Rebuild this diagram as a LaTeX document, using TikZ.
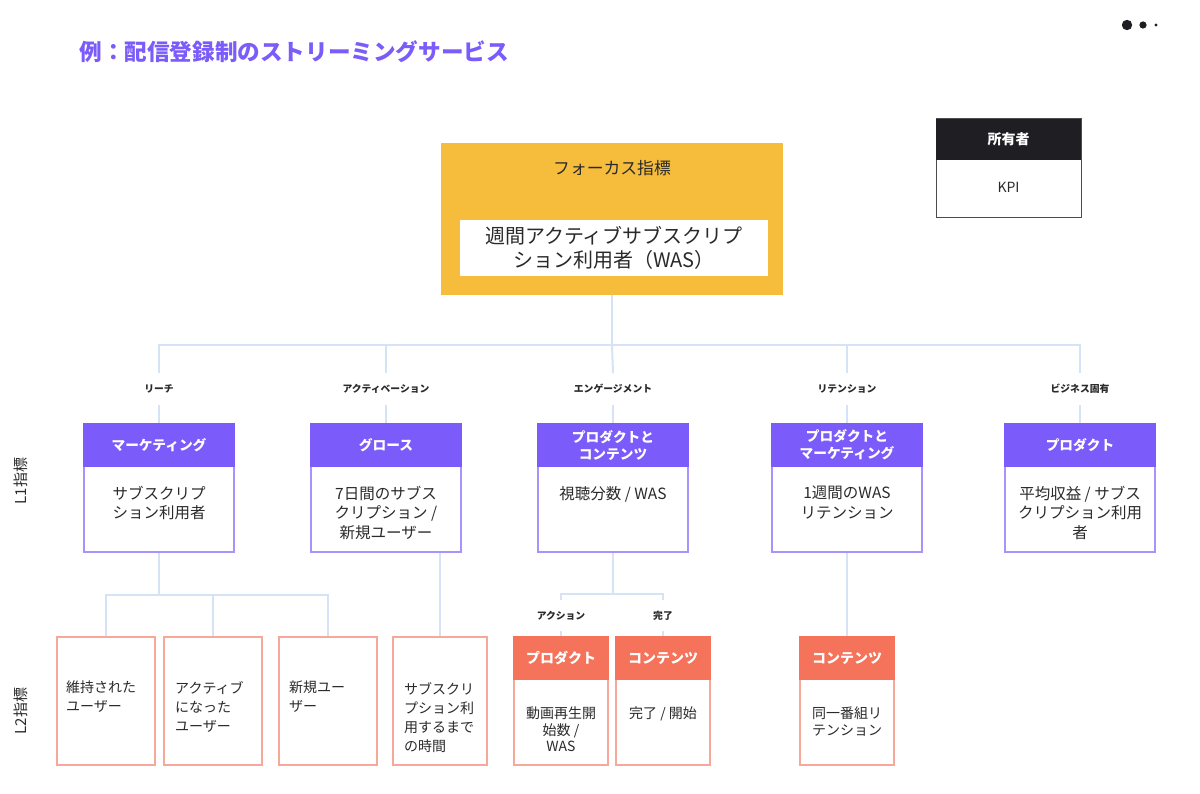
\documentclass[tikz,border=0pt]{standalone}
\usepackage{fontspec}
\setmainfont{Noto Sans CJK JP}
\usepackage{tikz}
\usetikzlibrary{positioning}

\definecolor{titlepurple}{HTML}{7B5CFA}
\definecolor{loneedge}{HTML}{A893FC}
\definecolor{ltwocoral}{HTML}{F4735A}
\definecolor{ltwoedge}{HTML}{F8A898}
\definecolor{focusorange}{HTML}{F6BC3C}
\definecolor{linkblue}{HTML}{D6E2F6}
\definecolor{ownerdark}{HTML}{1F1F23}
\definecolor{inkgray}{HTML}{2A2A2A}

\newcommand{\fs}[2]{\fontsize{#1}{#2}\selectfont}

\begin{document}
\begin{tikzpicture}[x=1pt, y=-1pt,
    every node/.style={text=inkgray},
    link/.style={linkblue, line width=2pt},
    loneframe/.style={draw=loneedge, line width=1.5pt, fill=white, minimum width=150pt, minimum height=128pt, inner sep=0pt},
    lonehead/.style={draw=titlepurple, line width=1.5pt, fill=titlepurple, text=white, minimum width=150pt, minimum height=42pt, align=center, font=\fs{13.7}{17}\bfseries, inner sep=0pt, anchor=north},
    lonetext/.style={align=center, font=\fs{15.5}{19.5}, inner sep=0pt, anchor=north},
    ltwoframe/.style={draw=ltwoedge, line width=1.5pt, fill=white, minimum width=94pt, minimum height=128pt, inner sep=0pt},
    ltwohead/.style={draw=ltwocoral, line width=1.5pt, fill=ltwocoral, text=white, minimum width=94pt, minimum height=42pt, font=\fs{14}{17}\bfseries, inner sep=0pt, anchor=north},
    ltwotext/.style={align=center, font=\fs{14}{16.5}, inner sep=0pt, anchor=north},
    ltwoleft/.style={align=left, font=\fs{14}{19}, inner sep=0pt, anchor=north west},
    stage/.style={font=\fs{9.8}{12}\bfseries, minimum height=31pt, inner sep=0pt},
    level/.style={rotate=90, font=\fs{15}{18}}]
    \useasboundingbox (0,0) rectangle (1200,794);

    \node[anchor=west, text=titlepurple, font=\fs{22.6}{26}\bfseries] (title) at (76,52) {例：配信登録制のストリーミングサービス};
    \fill[ownerdark] (1127,25) circle[radius=5.2pt] (1143,25) circle[radius=3.6pt] (1156,25) circle[radius=1.6pt]; % dots

    % owner legend
    \node[draw=ownerdark!80, line width=1pt, minimum width=145pt, minimum height=99pt] (owner) at (1008.5,168.5) {};
    \node[fill=ownerdark, text=white, minimum width=145pt, minimum height=41pt, anchor=north, font=\fs{14}{17}\bfseries] (ownerhead) at (owner.north) {所有者};
    \node[font=\fs{14}{17}] (kpi) at (1008.5,187) {KPI};

    % focus metric
    \node[fill=focusorange, minimum width=342pt, minimum height=152pt] (focus) at (612,219) {};
    \node[font=\fs{16.8}{20}] (focustitle) at (612,168) {フォーカス指標};
    \node[fill=white, minimum width=308pt, minimum height=56pt, align=center, font=\fs{20}{24}] (was) at (614,248) {週間アクティブサブスクリプ\\ション利用者（WAS）};

    % stages
    \node[stage] (reachlab) at (159,389) {リーチ};
    \node[stage] (actlab) at (386,389) {アクティベーション};
    \node[stage] (englab) at (613,389) {エンゲージメント};
    \node[stage] (retlab) at (847,389) {リテンション};
    \node[stage] (bizlab) at (1080,389) {ビジネス固有};

    % L1 boxes
    \node[loneframe] (mkt) at (159,488) {};
    \node[lonehead] (mkthead) at (mkt.north) {マーケティング};
    \node[lonetext] (mkttext) at (159,486) {サブスクリプ\\ション利用者};
    \node[loneframe] (grow) at (386,488) {};
    \node[lonehead] (growhead) at (grow.north) {グロース};
    \node[lonetext] (growtext) at (386,486) {7日間のサブス\\クリプション /\\新規ユーザー};
    \node[loneframe] (eng) at (613,488) {};
    \node[lonehead] (enghead) at (eng.north) {プロダクトと\\コンテンツ};
    \node[lonetext] (engtext) at (613,486) {視聴分数 / WAS};
    \node[loneframe] (ret) at (847,488) {};
    \node[lonehead] (rethead) at (ret.north) {プロダクトと\\マーケティング};
    \node[lonetext] (rettext) at (847,486) {1週間のWAS\\リテンション};
    \node[loneframe] (biz) at (1080,488) {};
    \node[lonehead] (bizhead) at (biz.north) {プロダクト};
    \node[lonetext] (biztext) at (1080,486) {平均収益 / サブス\\クリプション利用\\者};

    % L2 boxes
    \node[ltwoframe, minimum width=98pt] (kept) at (106,701) {};
    \node[ltwoleft] (kepttext) at (66,681) {維持された\\ユーザー};
    \node[ltwoframe, minimum width=98pt] (active) at (213,701) {};
    \node[ltwoleft] (activetext) at (175,681) {アクティブ\\になった\\ユーザー};
    \node[ltwoframe, minimum width=98pt] (newuser) at (328,701) {};
    \node[ltwoleft] (newusertext) at (289,681) {新規ユー\\ザー};
    \node[ltwoframe] (subtime) at (440,701) {};
    \node[ltwoleft] (subtimetext) at (404,682) {サブスクリ\\プション利\\用するまで\\の時間};

    \node[stage] (actionlab) at (561,615.5) {アクション};
    \node[stage] (donelab) at (663,615.5) {完了};
    \node[ltwoframe] (play) at (561,701) {};
    \node[ltwohead] (playhead) at (play.north) {プロダクト};
    \node[ltwotext] (playtext) at (561,707) {動画再生開\\始数 /\\WAS};
    \node[ltwoframe] (done) at (663,701) {};
    \node[ltwohead] (donehead) at (done.north) {コンテンツ};
    \node[ltwotext] (donetext) at (663,707) {完了 / 開始};
    \node[ltwoframe] (same) at (847,701) {};
    \node[ltwohead] (samehead) at (same.north) {コンテンツ};
    \node[ltwotext] (sametext) at (847,707) {同一番組リ\\テンション};

    % level labels
    \node[level] (lone) at (21,481) {L1指標};
    \node[level] (ltwo) at (21,711) {L2指標};

    % connectors
    \draw[link] (focus.south) -- (focus.south |- 0,345) coordinate (hub);
    \draw[link] (hub) -| (reachlab.north);
    \draw[link] (hub) -| (actlab.north);
    \draw[link] (hub) -- (englab.north);
    \draw[link] (hub) -| (retlab.north);
    \draw[link] (hub) -| (bizlab.north);
    \draw[link] (reachlab.south) -- (mkt.north);
    \draw[link] (actlab.south) -- (grow.north);
    \draw[link] (englab.south) -- (eng.north);
    \draw[link] (retlab.south) -- (ret.north);
    \draw[link] (bizlab.south) -- (biz.north);

    \draw[link] (mkt.south) -- ++(0,42) coordinate (mkthub);
    \draw[link] (mkthub) -| (kept.north);
    \draw[link] (mkthub) -| (active.north);
    \draw[link] (mkthub) -| (newuser.north);
    \draw[link] (subtime.north) -- (subtime.north |- grow.south);
    \draw[link] (eng.south) -- ++(0,41) coordinate (enghub);
    \draw[link] (enghub) -| (actionlab.north);
    \draw[link] (enghub) -| (donelab.north);
    \draw[link] (actionlab.south) -- (play.north);
    \draw[link] (donelab.south) -- (done.north);
    \draw[link] (ret.south) -- (same.north);
\end{tikzpicture}
\end{document}
